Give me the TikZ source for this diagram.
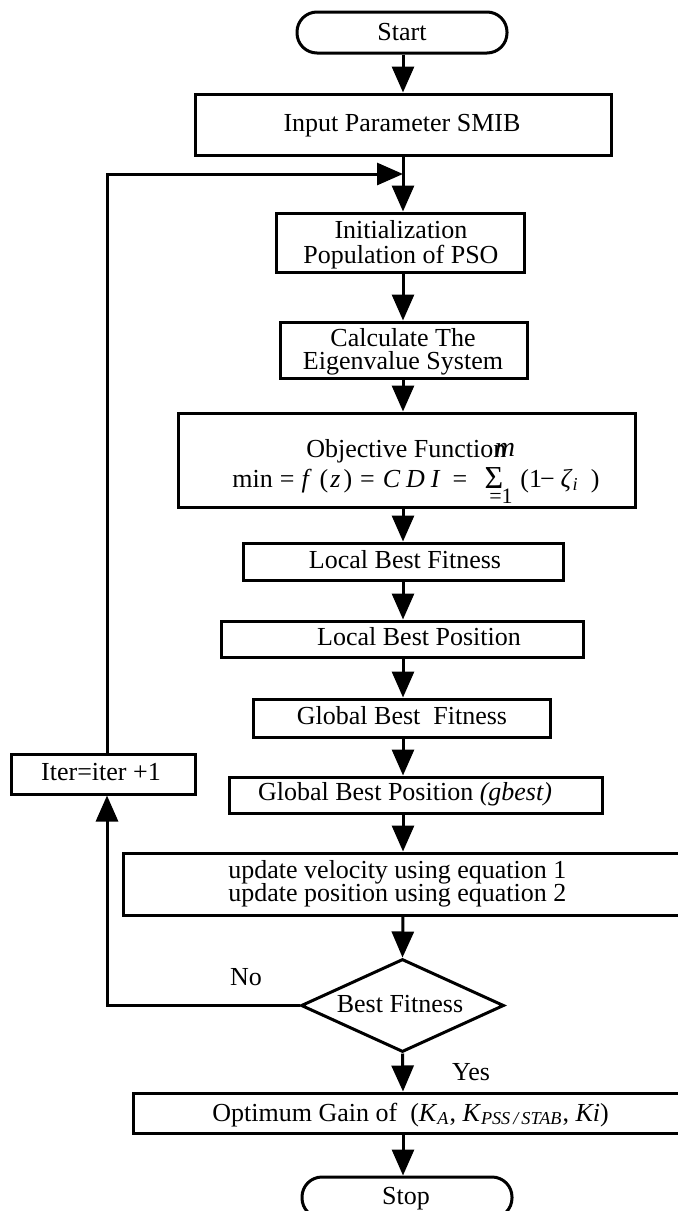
\documentclass[tikz,border=0pt]{standalone}
\usepackage{fontspec}
\setmainfont{Liberation Serif}
\usetikzlibrary{arrows.meta,shapes.geometric}
\begin{document}
\begin{tikzpicture}[x=0.5pt,y=-0.5pt,
  box/.style={draw, line width=1.5pt, inner sep=0pt, rectangle},
  term/.style={draw, line width=1.5pt, rounded corners=10pt, inner sep=0pt, rectangle},
  dia/.style={draw, line width=1.5pt, inner sep=0pt, diamond},
  lbl/.style={inner sep=0pt, anchor=base, font=\fontsize{13}{15.6}\selectfont},
  lblw/.style={inner sep=0pt, anchor=base west, font=\fontsize{13}{15.6}\selectfont},
  arr/.style={line width=1.5pt, -{Triangle[length=13pt,width=11pt]}},
  ln/.style={line width=1.5pt}]
\useasboundingbox (0,0) rectangle (678,1211);

% shapes
\node[term, minimum width=105pt, minimum height=20.5pt] (start) at (402,32.5) {};
\node[box, minimum width=208pt, minimum height=30.5pt] (input) at (403,124.5) {};
\node[box, minimum width=124pt, minimum height=29.5pt] (init) at (400,242.5) {};
\node[box, minimum width=123.5pt, minimum height=28pt] (eigen) at (403.5,350) {};
\node[box, minimum width=228.5pt, minimum height=47pt] (obj) at (406.5,460) {};
\node[box, minimum width=160pt, minimum height=18.5pt] (lbf) at (403,561.5) {};
\node[box, minimum width=181pt, minimum height=18pt] (lbp) at (402,639) {};
\node[box, minimum width=148.5pt, minimum height=19pt] (gbf) at (401.5,718) {};
\node[box, minimum width=186.5pt, minimum height=18pt] (gbp) at (415.5,795) {};
\node[box, minimum width=288.5pt, minimum height=31pt] (upd) at (411.5,884) {};
\node[dia, minimum width=101.5pt, minimum height=46.5pt] (dec) at (402.5,1005.5) {};
\node[box, minimum width=92pt, minimum height=20pt] (iter) at (103,774) {};
\node[box, minimum width=283.5pt, minimum height=20pt] (opt) at (416.5,1113) {};
\node[term, minimum width=105pt, minimum height=20.5pt] (stop) at (407,1197.5) {};

% texts
\node[lbl] (tstart) at (402,40) {Start};
\node[lbl] (tinput) at (402,131) {Input Parameter SMIB};
\node[lbl] (tinit1) at (401,238) {Initialization};
\node[lbl] (tinit2) at (401,263) {Population of PSO};
\node[lbl] (teig1) at (403,346) {Calculate The};
\node[lbl] (teig2) at (403,369) {Eigenvalue System};
\node[lblw] (tobj1) at (306,457) {Objective Function};
\node[lblw] (tobj2) at (232,487) {min\hspace{3.5pt}=\hspace{3.5pt}\textit{f}\kern4pt(\kern1pt\textit{z}\kern1.5pt)\hspace{4pt}=\hspace{4pt}\textit{C\kern3pt D\kern3pt I}\hspace{6pt}=};
\node[inner sep=0pt, anchor=base, font=\fontsize{16}{18}\selectfont] (tsig) at (494,488) {Σ};
\node[inner sep=0pt, anchor=base, font=\fontsize{14}{16}\selectfont\itshape] (tsup) at (505,456) {m};
\node[inner sep=0pt, anchor=base, font=\fontsize{11}{13}\selectfont] (tsub) at (501,503) {=1};
\node[lblw] (tobj3) at (520,487) {(1\kern-1pt−\hspace{3pt}\textit{ζ}\textsubscript{\textit{i}}\hspace{6pt})};
\node[lbl] (tlbf) at (405,568) {Local Best Fitness};
\node[lbl] (tlbp) at (419,645) {Local Best Position};
\node[lbl] (tgbf) at (402,724) {Global Best\ \ Fitness};
\node[lbl] (tgbp) at (405,800) {Global Best Position \textit{(gbest)}};
\node[lbl] (titer) at (101,780) {Iter=iter +1};
\node[lblw] (tupd1) at (228,878) {update velocity using equation 1};
\node[lblw] (tupd2) at (228,901) {update position using equation 2};
\node[lbl] (tdec) at (400,1012) {Best Fitness};
\node[lbl] (tno) at (246,985) {No};
\node[lbl] (tyes) at (471,1080) {Yes};
\node[lblw] (topt) at (212,1121) {Optimum Gain of\ \ (\textit{K}\textsubscript{\textit{A}}, \textit{K}\textsubscript{\textit{PSS\,/\,STAB}}, \textit{Ki})};
\node[lbl] (tstop) at (406,1204) {Stop};

% helper coordinates
\coordinate (ax) at (403,0);
\coordinate (fb) at (107,0);
\coordinate (join) at (403,174);

% main flow
\draw[arr] (ax |- start.south) -- (ax |- input.north);
\draw[arr] (ax |- input.south) -- (ax |- init.north);
\draw[arr] (ax |- init.south) -- (ax |- eigen.north);
\draw[arr] (ax |- eigen.south) -- (ax |- obj.north);
\draw[arr] (ax |- obj.south) -- (ax |- lbf.north);
\draw[arr] (ax |- lbf.south) -- (ax |- lbp.north);
\draw[arr] (ax |- lbp.south) -- (ax |- gbf.north);
\draw[arr] (ax |- gbf.south) -- (ax |- gbp.north);
\draw[arr] (ax |- gbp.south) -- (ax |- upd.north);
\draw[arr] (ax |- upd.south) -- (dec.north);
\draw[arr] (dec.south) -- (ax |- opt.north);
\draw[arr] (ax |- opt.south) -- (ax |- stop.north);

% feedback loop
\draw[arr] (dec.west) -- (fb |- dec.west) -- (fb |- iter.south);
\draw[arr] (fb |- iter.north) -- (fb |- join) -- (join);
\end{tikzpicture}
\end{document}
